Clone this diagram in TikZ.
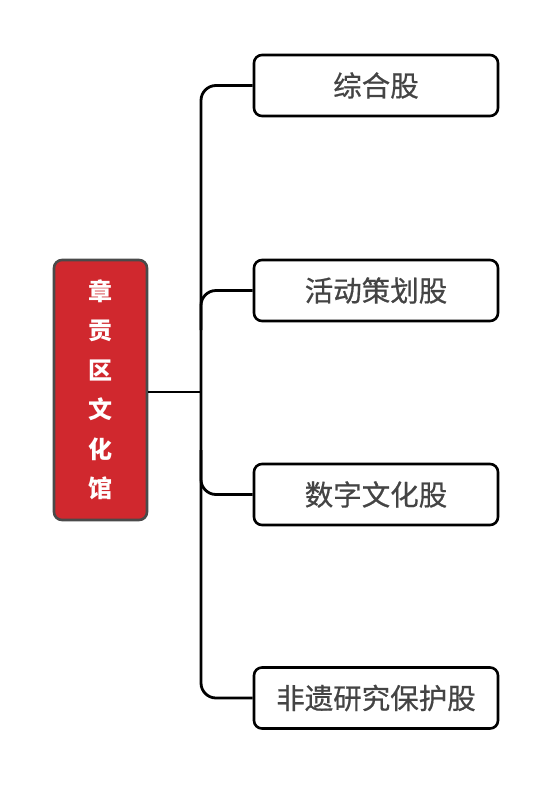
\documentclass[tikz,border=0pt]{standalone}
\usepackage{fontspec}
\newfontfamily\cjk{Noto Sans CJK SC}
\newfontfamily\cjkmid[FakeBold=0.6]{Noto Sans CJK SC}
\definecolor{deptred}{HTML}{D0282E}
\definecolor{edgegray}{HTML}{4A4A4A}
\definecolor{textgray}{HTML}{444444}
\tikzset{
  dept/.style={draw=black, line width=2.6pt, rounded corners=8pt, fill=white,
    minimum width=244pt, minimum height=61pt, text=textgray,
    font=\cjkmid\fontsize{28.5}{30}\selectfont},
  root/.style={draw=edgegray, line width=2.6pt, rounded corners=8pt, fill=deptred,
    minimum width=93pt, minimum height=260pt, text=white, align=center,
    font=\cjk\bfseries\fontsize{24}{39.5}\selectfont},
  link/.style={line width=2.8pt, rounded corners=15pt}
}
\begin{document}
\begin{tikzpicture}[x=1pt, y=-1pt]
      % Fix the page size
      \useasboundingbox (0, 0) rectangle (554, 785);

      % Draw the main box
      \node[root] (hall) at (100.5, 390) {章\\贡\\区\\文\\化\\馆};

      % Draw the four sections
      \node[dept] (general) at (376, 85.5) {综合股};
      \node[dept] (events) at (376, 290.5) {活动策划股};
      \node[dept] (digital) at (376, 494.5) {数字文化股};
      \node[dept] (heritage) at (376, 698) {非遗研究保护股};

      % Draw the connectors
      \coordinate (trunk) at (201, 392);
      \coordinate (eventsdrop) at (201, 330);
      \coordinate (digitalrise) at (201, 450);
      \draw[link] (hall.east |- trunk) -- (trunk);
      \draw[link] (general.west) -| (trunk) |- (heritage.west);
      \draw[link] (events.west) -| (eventsdrop);
      \draw[link] (digital.west) -| (digitalrise);
      
      \end{tikzpicture}
\end{document}
